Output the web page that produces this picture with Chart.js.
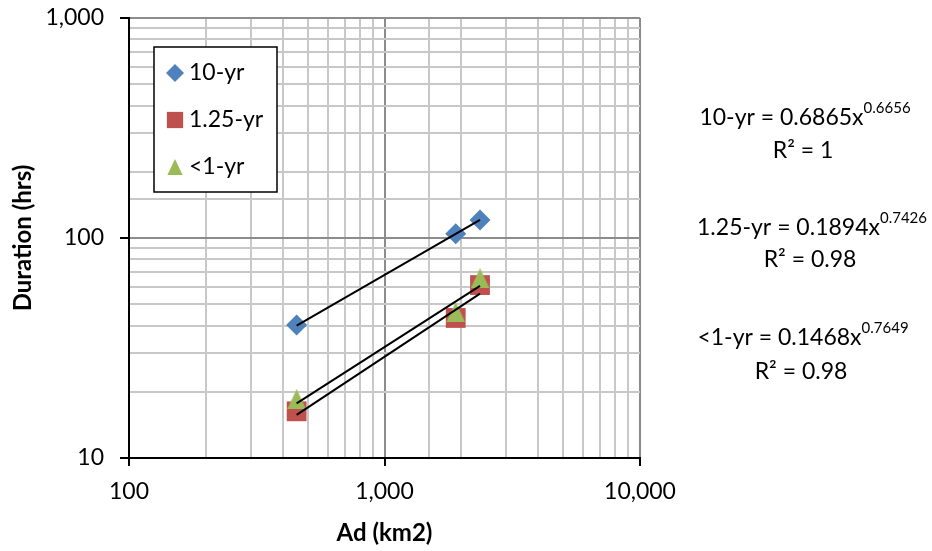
<!DOCTYPE html>
<html>
<head>
<meta charset="utf-8">
<script src="https://cdn.jsdelivr.net/npm/chart.js@4/dist/chart.umd.min.js"></script>
<style>
  html, body { margin: 0; padding: 0; background: #fff; }
  #wrap { width: 932px; height: 551px; position: relative; }
</style>
</head>
<body>
<div id="wrap"><canvas id="c" width="932" height="551"></canvas></div>
<script>
// ---- data ----
const areas = [453, 1900, 2365];            // Ad (km2)
const dur10yr = [40.2, 104.5, 120.8];      // 10-yr durations (hrs)
const dur125yr = [16.3, 43.3, 61.1];       // 1.25-yr durations (hrs)
const durLt1yr = [18.5, 46.0, 65.6];       // <1-yr durations (hrs)
const trendX = [453, 2365];                // trendline span
const trend10yr = [40.0, 120.8];
const trend125yr = [17.7, 60.6];
const trendLt1yr = [15.7, 55.9];
const seriesNames = ['10-yr', '1.25-yr', '<1-yr'];
const eqMain = ['10-yr = 0.6865x', '1.25-yr = 0.1894x', '<1-yr = 0.1468x'];
const eqExp = ['0.6656', '0.7426', '0.7649'];
const eqR2 = ['R\u00B2 = 1', 'R\u00B2 = 0.98', 'R\u00B2 = 0.98'];
const xTickLabels = [100, 1000, 10000];
const yTickLabels = [10, 100, 1000];

const FONT = 'Lato, "Open Sans", sans-serif';
const colors = ['#4F81BD', '#C0504D', '#9BBB59'];

function triangleCanvas(w, h, color) {
  const c = document.createElement('canvas');
  c.width = w; c.height = h;
  const g = c.getContext('2d');
  g.fillStyle = color;
  g.beginPath(); g.moveTo(w / 2, 0); g.lineTo(w, h); g.lineTo(0, h); g.closePath(); g.fill();
  return c;
}
const triMark = triangleCanvas(19, 20, colors[2]);
const styles = ['rectRot', 'rect', triMark];
const radii = [10.5, 14, 10];

const pts = (xs, ys) => xs.map((x, i) => ({x: x, y: ys[i]}));
const isMajor = (v, list) => list.some(t => Math.abs(t - v) < 1e-6 * t);

const scatterSets = [dur10yr, dur125yr, durLt1yr].map((d, i) => ({
  label: seriesNames[i], data: pts(areas, d), showLine: false,
  pointStyle: styles[i], pointRadius: radii[i], pointHoverRadius: radii[i],
  backgroundColor: colors[i], borderColor: colors[i], borderWidth: 0, order: 4 - i
}));
const trendSets = [trend10yr, trend125yr, trendLt1yr].map((d, i) => ({
  label: 'trend ' + seriesNames[i], data: pts(trendX, d), showLine: true,
  pointRadius: 0, borderColor: '#000', borderWidth: 2, order: 0, fill: false
}));

function drawMarker(ctx, style, x, y, r, color) {
  ctx.save();
  ctx.fillStyle = color;
  ctx.beginPath();
  if (style === 'rectRot') {
    ctx.moveTo(x - r, y); ctx.lineTo(x, y - r); ctx.lineTo(x + r, y); ctx.lineTo(x, y + r);
  } else if (style === 'rect') {
    const s = r * Math.SQRT1_2; ctx.rect(x - s, y - s, 2 * s, 2 * s);
  } else {
    ctx.moveTo(x, y - r); ctx.lineTo(x + r * 0.95, y + r); ctx.lineTo(x - r * 0.95, y + r);
  }
  ctx.closePath(); ctx.fill(); ctx.restore();
}

const overlay = {
  id: 'overlay',
  afterDraw(chart) {
    const ctx = chart.ctx;
    // legend box
    ctx.save();
    ctx.fillStyle = '#fff';
    ctx.fillRect(154, 47, 123, 145);
    ctx.strokeStyle = '#000'; ctx.lineWidth = 1.5;
    ctx.strokeRect(154, 47, 123, 145);
    ctx.font = '23px ' + FONT; ctx.fillStyle = '#000';
    ctx.textBaseline = 'middle'; ctx.textAlign = 'left';
    const ly = [73, 120, 167];
    seriesNames.forEach((n, i) => {
      drawMarker(ctx, i === 2 ? 'tri' : styles[i], 175, ly[i], [9, 11.5, 8][i], colors[i]);
      ctx.fillText(n, 189, ly[i]);
    });
    // equations
    const cxs = [805, 812, 803];
    const eqY = [118, 228, 338];
    const r2Y = [151, 260, 372];
    eqMain.forEach((m, i) => {
      const cx = cxs[i];
      ctx.font = '23px ' + FONT;
      const wm = ctx.measureText(m).width;
      ctx.font = '15px ' + FONT;
      const we = ctx.measureText(eqExp[i]).width;
      const x0 = cx - (wm + we) / 2;
      ctx.textAlign = 'left';
      ctx.font = '23px ' + FONT;
      ctx.fillText(m, x0, eqY[i]);
      ctx.font = '15px ' + FONT;
      ctx.fillText(eqExp[i], x0 + wm, eqY[i] - 10);
      ctx.font = '23px ' + FONT;
      ctx.textAlign = 'center';
      ctx.fillText(eqR2[i], cx - 2, r2Y[i]);
    });
    ctx.restore();
  }
};

new Chart(document.getElementById('c'), {
  type: 'scatter',
  data: { datasets: [...trendSets, ...scatterSets] },
  options: {
    responsive: false, animation: false,
    layout: { padding: { top: 18, right: 292, left: 0, bottom: 0 } },
    plugins: { legend: { display: false }, tooltip: { enabled: false } },
    scales: {
      x: {
        type: 'logarithmic', min: 100, max: 10000, position: 'bottom',
        afterFit(s) { s.height = 93; s.paddingLeft = 0; s.paddingRight = 0; },
        ticks: {
          autoSkip: false, maxRotation: 0, padding: 12, color: '#000',
          font: { family: FONT, size: 23 },
          callback: v => isMajor(v, xTickLabels) ? Number(v).toLocaleString('en-US') : ''
        },
        grid: {
          color: c => isMajor(c.tick.value, xTickLabels) ? '#8c8c8c' : '#c8c8c8',
          lineWidth: 2,
          tickLength: 8,
          tickColor: c => isMajor(c.tick.value, xTickLabels) ? '#000' : 'rgba(0,0,0,0)',
          tickWidth: 2
        },
        border: { color: '#000', width: 2 },
        title: { display: true, text: 'Ad (km2)', color: '#000',
          font: { family: FONT, size: 24, weight: 'bold' }, padding: { top: 0, bottom: 3 } }
      },
      y: {
        type: 'logarithmic', min: 10, max: 1000, position: 'left',
        afterFit(s) { s.width = 129; s.paddingTop = 0; s.paddingBottom = 0; },
        ticks: {
          autoSkip: false, padding: 16, color: '#000',
          font: { family: FONT, size: 23 },
          callback: v => isMajor(v, yTickLabels) ? Number(v).toLocaleString('en-US') : ''
        },
        grid: {
          color: c => isMajor(c.tick.value, yTickLabels) ? '#8c8c8c' : '#c8c8c8',
          lineWidth: 2,
          tickLength: 9,
          tickColor: c => isMajor(c.tick.value, yTickLabels) ? '#000' : 'rgba(0,0,0,0)',
          tickWidth: 2
        },
        border: { color: '#000', width: 2 },
        title: { display: true, text: 'Duration (hrs)', color: '#000',
          font: { family: FONT, size: 24, weight: 'bold' }, padding: { top: 9, bottom: 0 } }
      }
    }
  },
  plugins: [overlay]
});
</script>
</body>
</html>
